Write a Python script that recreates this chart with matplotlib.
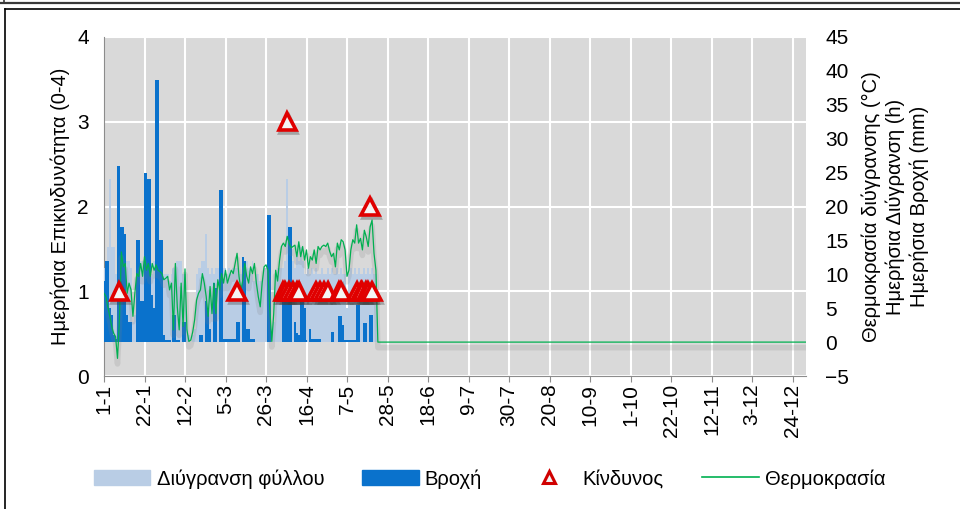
import numpy as np
import matplotlib.pyplot as plt
import matplotlib.patheffects as pe
from matplotlib.lines import Line2D
from matplotlib.patches import Patch

plt.rcParams['font.family'] = ['Liberation Sans', 'DejaVu Sans']

# DATA #

tick_labels = ['1-1', '22-1', '12-2', '5-3', '26-3', '16-4', '7-5', '28-5', '18-6',
               '9-7', '30-7', '20-8', '10-9', '1-10', '22-10', '12-11', '3-12', '24-12']

# daily temperature (°C), 1-1 onwards
temp_obs = [7.2, 6.7, 5.2, 3.8, 2.3, 1.3, 0.8, -2.4, 3.3, 13.3,
            11.1, 11.6, 7.2, 8.7, 7.7, 3.8, 7.2, 10.1, 9.7, 11.6,
            9.7, 12.6, 10.6, 11.6, 9.7, 11.6, 10.6, 11.4, 10.6, 10.4,
            10.1, 9.2, 9.4, 9.7, 7.7, 8.7, 1.8, 11.6, 5.2, 1.8,
            8.7, 2.3, 10.8, 1.8, 0.1, 0.3, 1.5, 3.3, 6.2, 7.2,
            7.7, 10.1, 8.7, 6.7, 3.8, 8.2, 4.2, 8.7, 4.2, 9.2,
            7.7, 10.1, 8.7, 10.6, 8.7, 9.7, 10.6, 10.1, 11.6, 13.1,
            9.7, 7.7, 9.2, 11.6, 9.7, 8.7, 11.1, 10.1, 11.6, 8.7,
            6.7, 5.2, 8.7, 11.1, 11.4, 10.6, 4.7, 0.1, 4.2, 10.6,
            9.0, 12.0, 14.1, 14.6, 14.1, 15.6, 14.6, 13.9, 14.1, 14.3,
            12.6, 14.8, 12.6, 14.1, 12.1, 13.6, 10.9, 12.6, 12.1, 13.6,
            11.6, 14.1, 13.6, 14.1, 14.3, 14.1, 14.6, 13.4, 12.6, 13.1,
            11.1, 14.6, 13.6, 15.1, 14.8, 13.6, 9.7, 10.6, 13.6, 15.1,
            14.6, 17.3, 14.6, 15.3, 13.6, 16.5, 15.5, 14.1, 17.0, 18.0, 13.1, 10.6]

# daily rain (mm)
rain_obs = [9, 12, 12, 5, 4, 1, 0.5, 26, 26, 17,
            17, 16, 4, 3, 3, 0, 0, 15, 15, 6,
            6, 25, 25, 24, 24, 7, 5, 38.7, 38.7, 15,
            15, 1, 0.3, 0.3, 0.3, 0, 4, 4, 0.3, 0.3,
            0, 3, 3, 0, 0, 0, 0, 0, 0, 0,
            1, 1, 0, 6, 5, 2, 0, 8.7, 8, 0,
            22.5, 22.5, 0.5, 0.5, 0.5, 0.5, 0.5, 0.5, 0.5, 3,
            3, 0, 12.6, 12, 2, 2, 0.5, 0.5, 0.5, 0,
            0, 0, 0, 0, 0, 18.8, 18.8, 0, 0, 0,
            0, 0, 0, 8, 8, 8, 17, 17, 0, 3,
            1.3, 1, 6, 6, 5, 0.3, 0, 2, 0.5, 0.5,
            0.5, 0.5, 0.5, 0, 0, 0, 0, 0, 1.5, 1.5,
            0, 0, 3.8, 3.8, 2.5, 0.3, 0.3, 0.3, 0.3, 0.3,
            0.3, 5.5, 5.5, 0, 0, 2.8, 2.8, 0, 4, 4, 0, 0]

# daily leaf wetness (h)
wet_obs = [11, 12, 14, 24, 14, 14, 10, 12, 12, 12,
           14, 10, 12, 12, 11, 3, 4, 10, 12, 12,
           12, 12, 12, 12, 12, 10, 12, 12, 12, 10,
           10, 10, 10, 10, 9, 10, 11, 11, 12, 12,
           12, 10, 10, 2, 1, 0, 1, 2, 10, 11,
           11, 12, 12, 16, 11, 10, 11, 10, 11, 11,
           11, 11, 11, 11, 10, 11, 10, 11, 11, 11,
           10, 10, 11, 11, 12, 11, 10, 12, 9, 10,
           10, 9, 9, 11, 11, 11, 10, 2, 3, 10,
           11, 11, 11, 11, 12, 24, 13, 13, 12, 11,
           13, 12, 14, 12, 10, 10, 11, 10, 11, 10,
           11, 10, 10, 11, 10, 10, 11, 10, 11, 10,
           10, 11, 10, 11, 10, 10, 5, 10, 11, 10,
           11, 10, 11, 10, 10, 11, 10, 11, 10, 11, 10, 10]

# daily risk (0-4), only days with risk
risk_days = [8, 69, 93, 94, 95, 96, 98, 100, 101, 110, 112, 114, 116,
             122, 123, 131, 133, 134, 136, 137, 138, 139]
risk_vals = [1, 1, 1, 1, 3, 1, 1, 1, 1, 1, 1, 1, 1,
             1, 1, 1, 1, 1, 1, 1, 2, 1]


# PROGRAM #

n_days = 365
days = np.arange(n_days)
pad = [0.0] * (n_days - len(temp_obs))
temp = np.array(temp_obs + pad)
rain = np.array(rain_obs + pad)
wet = np.array(wet_obs + pad)

fs = 14.5
grey = '#8c8c8c'

fig = plt.figure(figsize=(9.6, 5.09), dpi=100)
ax = fig.add_axes([104/960, 1-376/509, (806-104)/960, (376-37)/509])
ax.set_facecolor('#d9d9d9')
ax.set_xlim(0, 364)
ax.set_ylim(0, 4)
ax.set_yticks([0, 1, 2, 3, 4])
ax.set_xticks(np.arange(0, 358, 21))
ax.set_xticklabels(tick_labels, rotation=90)
ax.grid(True, color='white', lw=1.5)
ax.tick_params(axis='y', length=0, pad=11, labelsize=15)
ax.tick_params(axis='x', length=4, color=grey, pad=1.5, labelsize=15)
for s in ['top', 'right']:
    ax.spines[s].set_visible(False)
for s in ['left', 'bottom']:
    ax.spines[s].set_color(grey)
ax.set_ylabel('Ημερήσια Επικινδυνότητα (0-4)', fontsize=fs, labelpad=5)

# right axis: wetness, rain, temperature
ax2 = ax.twinx()
ax2.set_ylim(-5, 45)
ax2.set_yticks(np.arange(-5, 46, 5))
ax2.tick_params(axis='y', length=0, pad=14, labelsize=15)
for s in ax2.spines.values():
    s.set_visible(False)
ax2.bar(days, wet, width=1.0, color='#b9cde5', linewidth=0)
ax2.bar(days, rain, width=1.0, color='#0a72cc', linewidth=0)
# soft shadow under the series like the original
ax2.plot(days, temp, color='#00b050', lw=0.9,
         path_effects=[pe.SimpleLineShadow(offset=(0, -4), shadow_color='#7f7f7f',
                                           alpha=0.18, linewidth=4), pe.Normal()])
ax2.set_ylabel('Θερμοκρασία διύγρανσης (°C)\nΗμερήσια Διύγρανση (h)\nΗμερήσια Βροχή (mm)',
               fontsize=fs, labelpad=9, linespacing=1.28)

# risk triangles on top
ax3 = ax.twinx()
ax3.set_ylim(0, 4)
ax3.axis('off')
ax3.plot(risk_days, risk_vals, ls='none', marker='^', ms=12.5,
         mfc='#f4f4f4', mec='#e00000', mew=2.6,
         path_effects=[pe.SimpleLineShadow(offset=(1, -2), shadow_color='#404040', alpha=0.35),
                       pe.Normal()])

handles = [Patch(color='#b9cde5'), Patch(color='#0a72cc'),
           Line2D([], [], ls='none', marker='^', ms=9, mfc='#f4f4f4', mec='#d00000', mew=2.2),
           Line2D([], [], color='#00b050', lw=1.2)]
labels = ['Διύγρανση φύλλου', 'Βροχή', 'Κίνδυνος', 'Θερμοκρασία']
fig.legend(handles, labels, loc='center', bbox_to_anchor=(0.51, 0.059), ncol=4,
           frameon=False, fontsize=fs, handlelength=2.8, handleheight=0.8,
           handletextpad=0.3, columnspacing=1.9)

# outer frames
fig.add_artist(Line2D([0, 1], [1-3/509]*2, color='#3a3a3a', lw=1.6))
fig.add_artist(Line2D([4/960]*2, [1, 1-3/509], color='#3a3a3a', lw=1.2))
fig.add_artist(Line2D([5/960, 1], [1-9/509]*2, color='black', lw=1.2))
fig.add_artist(Line2D([5/960]*2, [1-9/509, 0], color='black', lw=1.2))

fig.savefig('out.png', dpi=100)
